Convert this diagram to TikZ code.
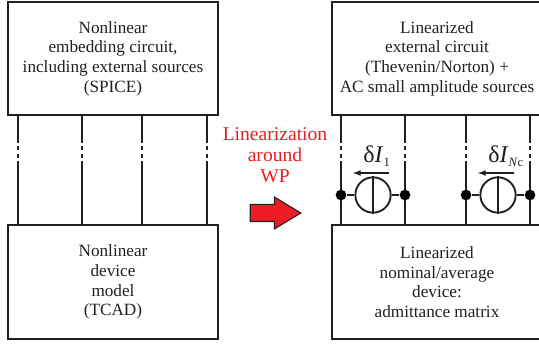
\documentclass[tikz,border=0pt]{standalone}
\usepackage{fontspec}
\setmainfont{Liberation Serif}
\usepackage{xcolor}
\usepackage{tikz}
\usetikzlibrary{positioning,shapes.arrows,calc}
\definecolor{wpred}{RGB}{237,28,36}
\definecolor{boxline}{RGB}{35,31,32}
\tikzset{
  block/.style={draw=boxline,text=boxline,line width=1.5pt,minimum width=157.5pt,minimum height=84.75pt,
                align=center,font=\fontsize{12.9}{14.8}\selectfont,inner sep=0pt},
  lowblock/.style={block,execute at begin node={\rule{0pt}{13.5pt}}},
  wire/.style={draw=boxline,line width=1.4pt},
  gapmark/.style={draw=white,line width=2.4pt,dash pattern=on 2.6pt off 2.85pt},
  source/.style={circle,draw=boxline,line width=1.4pt,minimum size=26.5pt,inner sep=0pt},
  junction/.style={circle,fill=black,minimum size=8pt,inner sep=0pt},
  lbl/.style={inner sep=0pt,anchor=base west,text=boxline,font=\fontsize{18}{20}\selectfont},
  small/.style={draw=boxline,line width=1pt,-latex}
}
\newcommand{\dI}[1]{δ\textit{I}\raisebox{-2.5pt}{\fontsize{9.5}{10}\selectfont #1}}
\begin{document}
\begin{tikzpicture}[x=0.75pt,y=-0.75pt]
  \useasboundingbox (0,0) rectangle (539,345);
  \node[block] (nl)  at (113,58.5) {Nonlinear\\embedding circuit,\\including external sources\\(SPICE)};
  \node[lowblock] (dev) at (113,282) {Nonlinear\\device\\model\\(TCAD)};
  \node[block] (lin) at (437,58.5) {Linearized\\external circuit\\(Thevenin/Norton) +\\AC small amplitude sources};
  \node[lowblock] (avg) at (437,282) {Linearized\\nominal/average\\device:\\admittance matrix};

  % wires
  \foreach \name/\xx in {a/18,b/82,c/142,d/207,e/341,f/405,g/466,h/530} {
    \coordinate (\name t) at (\xx,115.5);
    \coordinate (\name b) at (\xx,225);
    \draw[wire] (\name t) -- (\name b);
    \draw[gapmark] ($(\name t)+(0,27.5)$) -- ($(\name t)+(0,45.5)$);
  }

  % current sources
  \node[source] (s1) at (373,195) {};
  \node[source] (s2) at (498,195) {};
  \node[junction] (j1) at (341,195) {};
  \node[junction] (j2) at (405,195) {};
  \node[junction] (j3) at (466,195) {};
  \node[junction] (j4) at (530,195) {};
  \draw[wire] (j1) -- (s1);
  \draw[wire] (s1) -- (j2);
  \draw[wire] (j3) -- (s2);
  \draw[wire] (s2) -- (j4);
  \draw[wire] (s1.north) -- (s1.south);
  \draw[wire] (s2.north) -- (s2.south);

  \node[lbl] (d1) at (363,163) {\dI{1}};
  \node[lbl] (d2) at (488,163) {\dI{\textit{N}c}};
  \coordinate (a1r) at (389,173);
  \coordinate (a1l) at (353,173);
  \coordinate (a2r) at (514,173);
  \coordinate (a2l) at (478,173);
  \draw[small] (a1r) -- (a1l);
  \draw[small] (a2r) -- (a2l);

  % middle
  \node[align=center,text=wpred,font=\fontsize{14.7}{16}\selectfont] (txt) at (275,155) {Linearization\\around\\WP};
  \node[single arrow,draw=boxline,fill=wpred,line width=0.8pt,minimum height=38pt,minimum width=23pt,
        single arrow head extend=5.5pt,single arrow tip angle=62,inner xsep=0pt,inner ysep=6pt] (arr) at (268.5,213) {};
\end{tikzpicture}
\end{document}
